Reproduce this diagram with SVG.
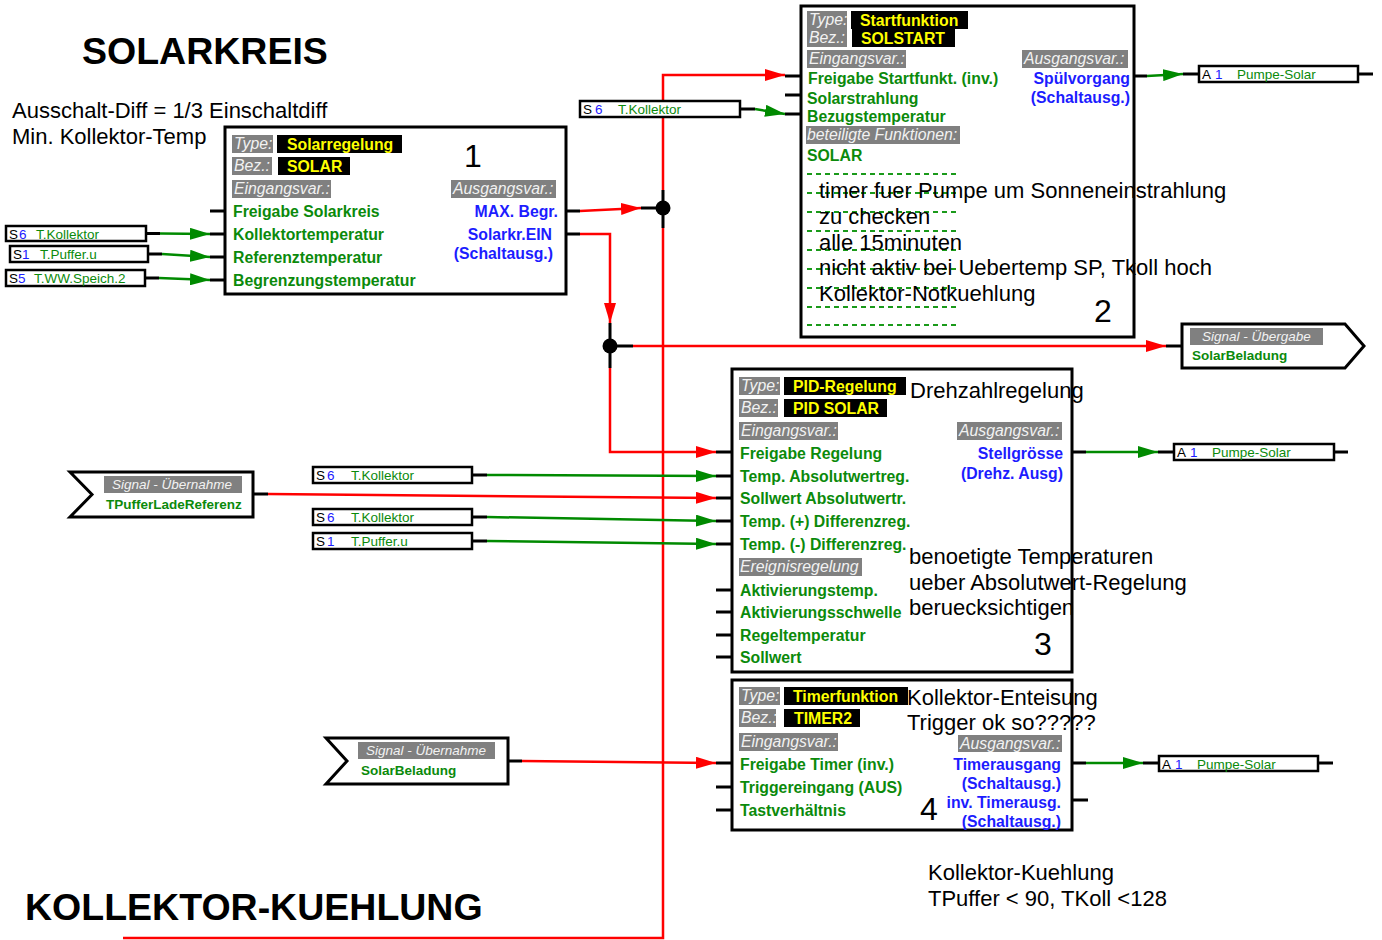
<svg xmlns="http://www.w3.org/2000/svg" width="1382" height="940" viewBox="0 0 1382 940">
<style>
text{font-family:"Liberation Sans",Arial,sans-serif}
.blk{fill:#fff;stroke:#000;stroke-width:3}
.box{fill:#fff;stroke:#000;stroke-width:2.5}
.lab{font-weight:bold;font-size:15.8px;fill:#0b8a0b}
.out{font-weight:bold;font-size:15.8px;fill:#1c1cff;text-anchor:end}
.gbg{fill:#808080}
.gt{font-style:italic;font-size:15.8px;fill:#f2f2f2}
.ybg{fill:#000}
.yt{font-weight:bold;font-size:15.8px;fill:#ffff00}
.num{font-size:32px;fill:#000}
.note{font-size:22px;fill:#000}
.title{font-size:37.5px;font-weight:bold;fill:#000}
.st{stroke:#000;stroke-width:3;fill:none}
.red{stroke:#ff0000;stroke-width:2.5;fill:none}
.grn{stroke:#008a00;stroke-width:2.5;fill:none}
.dash{stroke:#1a9a1a;stroke-width:2;stroke-dasharray:5,4}
.sk{font-size:13.5px;fill:#000}
.sb{font-size:13.5px;fill:#1c1cff}
.sg{font-size:13.5px;fill:#0b8a0b}
.sig{font-style:italic;font-size:13.5px;fill:#f2f2f2}
.sigv{font-weight:bold;font-size:13.5px;fill:#0b8a0b}
</style>
<defs>
<marker id="ar" viewBox="0 0 20 12" refX="20" refY="6" markerWidth="20" markerHeight="12" markerUnits="userSpaceOnUse" orient="auto"><path d="M0,0 L20,6 L0,12 z" fill="#ff0000"/></marker>
<marker id="ag" viewBox="0 0 20 12" refX="20" refY="6" markerWidth="20" markerHeight="12" markerUnits="userSpaceOnUse" orient="auto"><path d="M0,0 L20,6 L0,12 z" fill="#008a00"/></marker>
</defs>
<rect width="1382" height="940" fill="#fff"/>

<!-- headings and free notes -->
<g id="notes">
<text class="title" x="82" y="64">SOLARKREIS</text>
<text class="title" x="25" y="920">KOLLEKTOR-KUEHLUNG</text>
<text class="note" x="12" y="118">Ausschalt-Diff = 1/3 Einschaltdiff</text>
<text class="note" x="12" y="144">Min. Kollektor-Temp</text>
<text class="note" x="928" y="880">Kollektor-Kuehlung</text>
<text class="note" x="928" y="906">TPuffer &lt; 90, TKoll &lt;128</text>
</g>

<!-- connectors -->
<g id="connectors">
<!-- block 1 inputs -->
<path class="st" d="M146,233.5 H160 M148,254 H162 M145,278 H159"/>
<path class="grn" d="M160,233.5 L210,234" marker-end="url(#ag)"/>
<path class="grn" d="M162,254 L210,257" marker-end="url(#ag)"/>
<path class="grn" d="M159,278 L210,280" marker-end="url(#ag)"/>
<path class="st" d="M210,211 H225 M210,234 H225 M210,257 H225 M210,280 H225"/>
<!-- block 1 outputs -->
<path class="st" d="M566,211 H580 M566,234 H580"/>
<path class="red" d="M580,211 L641,208" marker-end="url(#ar)"/>
<path class="st" d="M641,208 H663 M663,190 V228"/>
<path class="red" d="M663,190 V75 H785" marker-end="url(#ar)"/>
<path class="red" d="M663,228 V938 H123"/>
<circle cx="663" cy="208" r="7.5" fill="#000"/>
<path class="red" d="M580,234 H610 V323" marker-end="url(#ar)"/>
<path class="st" d="M610,323 V368 M610,346 H633"/>
<circle cx="610" cy="346" r="7.5" fill="#000"/>
<path class="red" d="M633,346 H1166" marker-end="url(#ar)"/>
<path class="st" d="M1166,346 H1182"/>
<path class="red" d="M610,368 V452 H716" marker-end="url(#ar)"/>
<!-- block 2 -->
<path class="st" d="M785,76 H801 M785,95 H801 M785,114 H801"/>
<path class="st" d="M740,109 H755"/>
<path class="grn" d="M755,109 L785,114" marker-end="url(#ag)"/>
<path class="st" d="M1134,76 H1147"/>
<path class="grn" d="M1147,76 L1183,74" marker-end="url(#ag)"/>
<path class="st" d="M1183,74 H1199 M1358,74 H1373"/>
<!-- block 3 -->
<path class="st" d="M472,475 H487 M472,517 H487 M472,541 H487 M253,494 H268"/>
<path class="grn" d="M487,475 L716,476" marker-end="url(#ag)"/>
<path class="red" d="M268,494 L716,498" marker-end="url(#ar)"/>
<path class="grn" d="M487,517 L716,521" marker-end="url(#ag)"/>
<path class="grn" d="M487,541 L716,544" marker-end="url(#ag)"/>
<path class="st" d="M716,452 H732 M716,476 H732 M716,498 H732 M716,521 H732 M716,544 H732 M716,590 H732 M716,612 H732 M716,635 H732 M716,657 H732"/>
<path class="st" d="M1072,452 H1086"/>
<path class="grn" d="M1086,452 H1158" marker-end="url(#ag)"/>
<path class="st" d="M1158,452 H1174 M1334,452 H1348"/>
<!-- block 4 -->
<path class="st" d="M508,761 H522"/>
<path class="red" d="M522,761 L716,763" marker-end="url(#ar)"/>
<path class="st" d="M716,763 H732 M716,787 H732 M716,810 H732"/>
<path class="st" d="M1072,763 H1086 M1072,800 H1088"/>
<path class="grn" d="M1086,763 H1143" marker-end="url(#ag)"/>
<path class="st" d="M1143,763 H1159 M1318,763 H1333"/>
</g>

<!-- sensor and output terminals -->
<g id="s6-koll-a">
<rect class="box" x="6" y="226" width="140" height="15"/>
<text class="sk" x="9" y="238.5">S</text><text class="sb" x="19" y="238.5">6</text><text class="sg" x="36" y="238.5">T.Kollektor</text>
</g>
<g id="s1-puffer-a">
<rect class="box" x="10" y="246" width="138" height="16"/>
<text class="sk" x="13" y="259">S</text><text class="sb" x="22" y="259">1</text><text class="sg" x="40" y="259">T.Puffer.u</text>
</g>
<g id="s5-ww">
<rect class="box" x="6" y="270" width="139" height="16"/>
<text class="sk" x="9" y="283">S</text><text class="sb" x="18" y="283">5</text><text class="sg" x="34" y="283">T.WW.Speich.2</text>
</g>
<g id="s6-koll-b">
<rect class="box" x="580" y="101" width="160" height="16"/>
<text class="sk" x="583" y="114">S</text><text class="sb" x="595" y="114">6</text><text class="sg" x="618" y="114">T.Kollektor</text>
</g>
<g id="s6-koll-c">
<rect class="box" x="313" y="467" width="159" height="16"/>
<text class="sk" x="316" y="480">S</text><text class="sb" x="327" y="480">6</text><text class="sg" x="351" y="480">T.Kollektor</text>
</g>
<g id="s6-koll-d">
<rect class="box" x="313" y="509" width="159" height="16"/>
<text class="sk" x="316" y="522">S</text><text class="sb" x="327" y="522">6</text><text class="sg" x="351" y="522">T.Kollektor</text>
</g>
<g id="s1-puffer-b">
<rect class="box" x="313" y="533" width="159" height="16"/>
<text class="sk" x="316" y="546">S</text><text class="sb" x="327" y="546">1</text><text class="sg" x="351" y="546">T.Puffer.u</text>
</g>
<g id="a1-pumpe-a">
<rect class="box" x="1199" y="66" width="159" height="16"/>
<text class="sk" x="1202" y="79">A</text><text class="sb" x="1215" y="79">1</text><text class="sg" x="1237" y="79">Pumpe-Solar</text>
</g>
<g id="a1-pumpe-b">
<rect class="box" x="1174" y="444" width="160" height="16"/>
<text class="sk" x="1177" y="457">A</text><text class="sb" x="1190" y="457">1</text><text class="sg" x="1212" y="457">Pumpe-Solar</text>
</g>
<g id="a1-pumpe-c">
<rect class="box" x="1159" y="756" width="159" height="15"/>
<text class="sk" x="1162" y="768.5">A</text><text class="sb" x="1175" y="768.5">1</text><text class="sg" x="1197" y="768.5">Pumpe-Solar</text>
</g>

<!-- signal transfer nodes -->
<g id="sig-out-solarbeladung">
<polygon class="blk" points="1182,324 1345,324 1364,346 1345,368 1182,368"/>
<rect class="gbg" x="1190" y="328" width="133" height="17"/>
<text class="sig" x="1202" y="341">Signal - Übergabe</text>
<text class="sigv" x="1192" y="360">SolarBeladung</text>
</g>
<g id="sig-in-tpuffer">
<polygon class="blk" points="70,472 253,472 253,517 70,517 92,494.5"/>
<rect class="gbg" x="104" y="476" width="138" height="17"/>
<text class="sig" x="112" y="489">Signal - Übernahme</text>
<text class="sigv" x="106" y="509">TPufferLadeReferenz</text>
</g>
<g id="sig-in-solarbeladung">
<polygon class="blk" points="326,738 508,738 508,784 326,784 347,761"/>
<rect class="gbg" x="358" y="742" width="137" height="17"/>
<text class="sig" x="366" y="755">Signal - Übernahme</text>
<text class="sigv" x="361" y="775">SolarBeladung</text>
</g>

<!-- function 1: Solarregelung -->
<g id="block1">
<rect class="blk" x="225" y="127" width="341" height="167"/>
<rect class="gbg" x="232" y="135" width="41" height="18"/><text class="gt" x="234" y="149">Type:</text>
<rect class="ybg" x="277" y="135" width="125" height="18"/><text class="yt" x="287" y="149.5">Solarregelung</text>
<rect class="gbg" x="232" y="157" width="40" height="18"/><text class="gt" x="234" y="171">Bez.:</text>
<rect class="ybg" x="278" y="157" width="72" height="18"/><text class="yt" x="287" y="171.5">SOLAR</text>
<text class="num" x="464" y="167">1</text>
<rect class="gbg" x="232" y="180" width="99" height="18"/><text class="gt" x="234" y="194">Eingangsvar.:</text>
<rect class="gbg" x="451" y="180" width="105" height="18"/><text class="gt" x="453" y="194">Ausgangsvar.:</text>
<text class="lab" x="233" y="216.5">Freigabe Solarkreis</text>
<text class="lab" x="233" y="239.5">Kollektortemperatur</text>
<text class="lab" x="233" y="262.5">Referenztemperatur</text>
<text class="lab" x="233" y="285.5">Begrenzungstemperatur</text>
<text class="out" x="558" y="216.5">MAX. Begr.</text>
<text class="out" x="552" y="239.5">Solarkr.EIN</text>
<text class="out" x="553" y="259">(Schaltausg.)</text>
</g>

<!-- function 2: Startfunktion -->
<g id="block2">
<rect class="blk" x="801" y="6" width="333" height="331"/>
<rect class="gbg" x="807" y="11" width="40" height="18"/><text class="gt" x="809" y="25">Type:</text>
<rect class="ybg" x="851" y="11" width="117" height="18"/><text class="yt" x="860" y="25.5">Startfunktion</text>
<rect class="gbg" x="807" y="29" width="40" height="18"/><text class="gt" x="809" y="43">Bez.:</text>
<rect class="ybg" x="852" y="29" width="103" height="18"/><text class="yt" x="861" y="43.5">SOLSTART</text>
<rect class="gbg" x="807" y="50" width="99" height="18"/><text class="gt" x="809" y="64">Eingangsvar.:</text>
<rect class="gbg" x="1022" y="50" width="106" height="18"/><text class="gt" x="1024" y="64">Ausgangsvar.:</text>
<text class="lab" x="808" y="83.5">Freigabe Startfunkt. (inv.)</text>
<text class="lab" x="807" y="103.5">Solarstrahlung</text>
<text class="lab" x="807" y="121.5">Bezugstemperatur</text>
<rect class="gbg" x="806" y="126" width="154" height="18"/><text class="gt" x="807" y="140">beteiligte Funktionen:</text>
<text class="lab" x="807" y="160.5">SOLAR</text>
<text class="out" x="1130" y="83.5">Spülvorgang</text>
<text class="out" x="1130" y="102.5">(Schaltausg.)</text>
<path class="dash" d="M807,174 H958 M807,193 H958 M807,212 H958 M807,231 H958 M807,250 H958 M807,269 H958 M807,288 H958 M807,307 H958 M807,325 H958"/>
<text class="note" x="819" y="198">timer fuer Pumpe um Sonneneinstrahlung</text>
<text class="note" x="819" y="224">zu checken</text>
<text class="note" x="819" y="250">alle 15minuten</text>
<text class="note" x="819" y="275">nicht aktiv bei Uebertemp SP, Tkoll hoch</text>
<text class="note" x="819" y="301">Kollektor-Notkuehlung</text>
<text class="num" x="1094" y="322">2</text>
</g>

<!-- function 3: PID-Regelung -->
<g id="block3">
<rect class="blk" x="732" y="369" width="340" height="303"/>
<rect class="gbg" x="739" y="377" width="41" height="18"/><text class="gt" x="741" y="391">Type:</text>
<rect class="ybg" x="784" y="377" width="122" height="18"/><text class="yt" x="793" y="391.5">PID-Regelung</text>
<rect class="gbg" x="739" y="399" width="39" height="18"/><text class="gt" x="741" y="413">Bez.:</text>
<rect class="ybg" x="784" y="399" width="103" height="18"/><text class="yt" x="793" y="413.5">PID SOLAR</text>
<text class="note" x="910" y="398">Drehzahlregelung</text>
<rect class="gbg" x="739" y="422" width="99" height="18"/><text class="gt" x="741" y="436">Eingangsvar.:</text>
<rect class="gbg" x="957" y="422" width="105" height="18"/><text class="gt" x="959" y="436">Ausgangsvar.:</text>
<text class="lab" x="740" y="458.5">Freigabe Regelung</text>
<text class="lab" x="740" y="481.5">Temp. Absolutwertreg.</text>
<text class="lab" x="740" y="503.5">Sollwert Absolutwertr.</text>
<text class="lab" x="740" y="526.5">Temp. (+) Differenzreg.</text>
<text class="lab" x="740" y="549.5">Temp. (-) Differenzreg.</text>
<rect class="gbg" x="739" y="558" width="123" height="18"/><text class="gt" x="740" y="572">Ereignisregelung</text>
<text class="lab" x="740" y="595.5">Aktivierungstemp.</text>
<text class="lab" x="740" y="617.5">Aktivierungsschwelle</text>
<text class="lab" x="740" y="640.5">Regeltemperatur</text>
<text class="lab" x="740" y="662.5">Sollwert</text>
<text class="out" x="1063" y="458.5">Stellgrösse</text>
<text class="out" x="1063" y="478.5">(Drehz. Ausg)</text>
<text class="note" x="909" y="564">benoetigte Temperaturen</text>
<text class="note" x="909" y="590">ueber Absolutwert-Regelung</text>
<text class="note" x="909" y="615">beruecksichtigen</text>
<text class="num" x="1034" y="655">3</text>
</g>

<!-- function 4: Timerfunktion -->
<g id="block4">
<rect class="blk" x="732" y="680" width="340" height="150"/>
<rect class="gbg" x="739" y="687" width="41" height="18"/><text class="gt" x="741" y="701">Type:</text>
<rect class="ybg" x="784" y="687" width="124" height="18"/><text class="yt" x="793" y="701.5">Timerfunktion</text>
<rect class="gbg" x="739" y="709" width="37" height="18"/><text class="gt" x="741" y="723">Bez.:</text>
<rect class="ybg" x="784" y="709" width="76" height="18"/><text class="yt" x="794" y="723.5">TIMER2</text>
<text class="note" x="907" y="705">Kollektor-Enteisung</text>
<text class="note" x="907" y="730">Trigger ok so?????</text>
<rect class="gbg" x="739" y="733" width="99" height="18"/><text class="gt" x="741" y="747">Eingangsvar.:</text>
<rect class="gbg" x="958" y="735" width="104" height="17"/><text class="gt" x="960" y="748.5">Ausgangsvar.:</text>
<text class="lab" x="740" y="769.5">Freigabe Timer (inv.)</text>
<text class="lab" x="740" y="792.5">Triggereingang (AUS)</text>
<text class="lab" x="740" y="815.5">Tastverhältnis</text>
<text class="out" x="1061" y="769.5">Timerausgang</text>
<text class="out" x="1061" y="788.5">(Schaltausg.)</text>
<text class="out" x="1061" y="807.5">inv. Timerausg.</text>
<text class="out" x="1061" y="826.5">(Schaltausg.)</text>
<text class="num" x="920" y="820">4</text>
</g>
</svg>
